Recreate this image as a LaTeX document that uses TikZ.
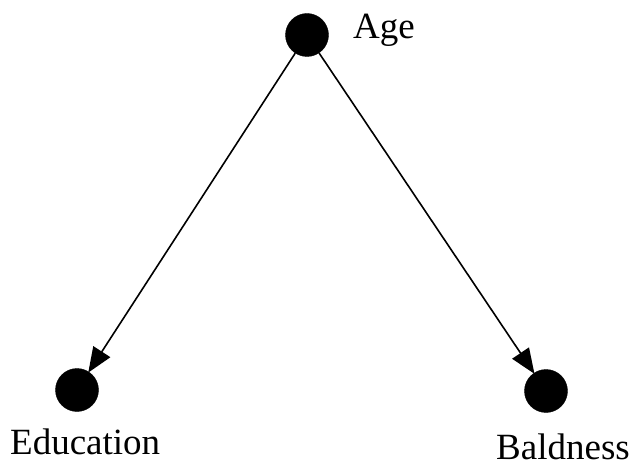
\documentclass[tikz,border=0pt]{standalone}
\usepackage{fontspec}
\setmainfont{Liberation Serif}
\usetikzlibrary{arrows.meta}
\begin{document}
\begin{tikzpicture}[x=1pt,y=-1pt,
  vertex/.style={circle,fill=black,draw=black,inner sep=0pt,minimum width=42pt,minimum height=43pt},
  lbl/.style={inner sep=0pt,anchor=base west,font=\fontsize{37}{40}\selectfont},
  edge/.style={line width=1.6pt,-{Triangle[length=25pt,width=20pt]},shorten >=-1pt}]
\useasboundingbox (0,0) rectangle (635,465);
\node[vertex] (age) at (307,35) {};
\node[vertex] (edu) at (77,390) {};
\node[vertex] (bald) at (546,391) {};
\node[lbl] (agel) at (353,39) {Age};
\node[lbl] (edul) at (10,454) {Education};
\node[lbl] (baldl) at (496,459) {Baldness};
\draw[edge] (age) -- (edu);
\draw[edge] (age) -- (bald);
\end{tikzpicture}
\end{document}
